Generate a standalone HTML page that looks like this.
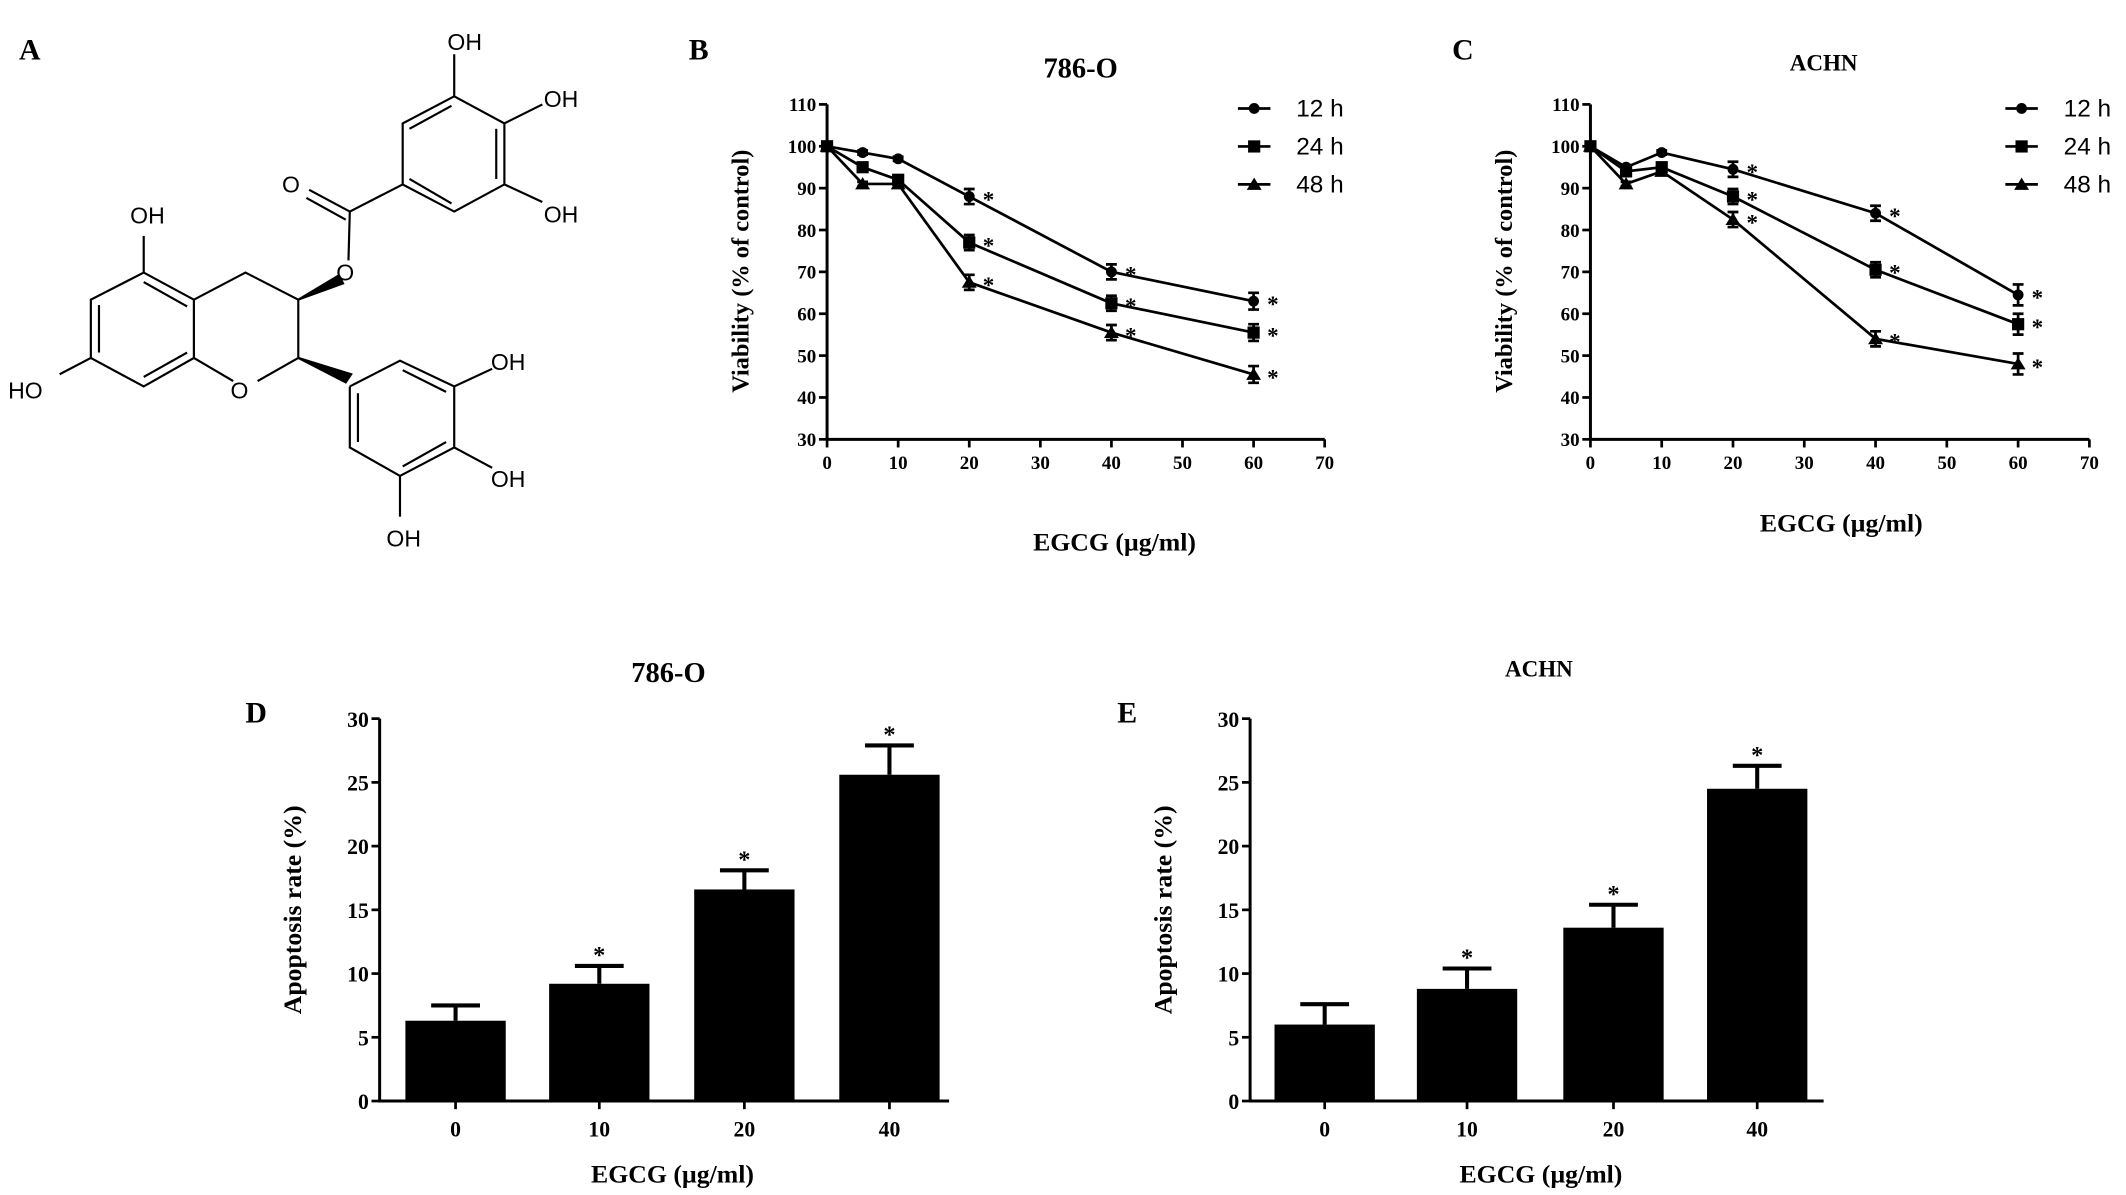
<!DOCTYPE html>
<html><head><meta charset="utf-8"><style>
html,body{margin:0;padding:0;background:#fff;}
svg{display:block;}
text{font-family:"Liberation Serif",serif;font-weight:bold;fill:#000;}
.chem{font-family:"Liberation Sans",sans-serif;font-weight:normal;font-size:17px;}
.leg{font-family:"Liberation Sans",sans-serif;font-weight:normal;font-size:18px;}
</style></head><body>
<svg id="fig" width="2126" height="1195" viewBox="0 0 1568 881.3" preserveAspectRatio="none" xmlns="http://www.w3.org/2000/svg">
<g stroke="#000" stroke-width="1.6" fill="none">
<polyline points="335,71 372,91 372,136 335,156 297,136 297,91 335,71"/>
<line x1="302" y1="95" x2="333" y2="78"/><line x1="366" y1="95" x2="366" y2="132"/><line x1="302" y1="132" x2="333" y2="150"/>
<line x1="335" y1="71" x2="335" y2="40"/><line x1="372" y1="91" x2="400" y2="77"/><line x1="372" y1="136" x2="400" y2="149"/>
<line x1="297" y1="136" x2="258" y2="156"/><line x1="258" y1="156" x2="228" y2="140"/><line x1="255" y1="162" x2="226" y2="146"/>
<line x1="258" y1="156" x2="257" y2="192"/>
<polyline points="220,221 181,201 143,221 106,201 67,221 67,264 106,285 143,264 143,221"/>
<line x1="106" y1="208" x2="138" y2="226"/><line x1="73" y1="225" x2="73" y2="260"/><line x1="106" y1="278" x2="138" y2="260"/>
<line x1="106" y1="201" x2="106" y2="174"/><line x1="67" y1="264" x2="44" y2="276"/>
<line x1="143" y1="264" x2="172" y2="281"/><line x1="190" y1="281" x2="220" y2="264"/><line x1="220" y1="264" x2="220" y2="221"/>
<polyline points="258,285 295,266 335,285 335,330 295,351 258,330 258,285"/>
<line x1="297" y1="273" x2="329" y2="289"/><line x1="329" y1="326" x2="297" y2="344"/><line x1="264" y1="290" x2="264" y2="326"/>
<line x1="335" y1="285" x2="363" y2="272"/><line x1="335" y1="330" x2="363" y2="345"/><line x1="295" y1="351" x2="295" y2="381"/>
<polygon points="220,221 250,203 253,209" fill="#000"/><polygon points="220,264 255,282 259,276" fill="#000"/>
</g>
<g>
<text x="330" y="37" class="chem">OH</text><text x="401" y="79" class="chem">OH</text><text x="401" y="164" class="chem">OH</text>
<text x="208" y="142" class="chem">O</text><text x="248" y="207" class="chem">O</text><text x="96" y="165" class="chem">OH</text>
<text x="6" y="294" class="chem">HO</text><text x="170" y="294" class="chem">O</text><text x="362" y="273" class="chem">OH</text>
<text x="362" y="359" class="chem">OH</text><text x="285" y="403" class="chem">OH</text>
</g>
<text x="14" y="44" font-size="22">A</text>
<text x="508" y="44" font-size="22">B</text>
<text x="1071" y="44" font-size="22">C</text>
<text x="181" y="533" font-size="22">D</text>
<text x="824" y="533" font-size="22">E</text>
<g id="gB"></g>
<g id="gC"></g>
<g id="gD"></g>
<g id="gE"></g>
</svg>
<script>
const doses = [0, 5, 10, 20, 40, 60];
const seriesNames = ["12 h", "24 h", "48 h"];
const b12 = [100, 98.5, 97, 88, 70, 63];
const b24 = [100, 95, 92, 77, 62.5, 55.5];
const b48 = [100, 91, 91, 67.5, 55.5, 45.5];
const c12 = [100, 95, 98.5, 94.5, 84, 64.5];
const c24 = [100, 94, 95, 88, 70.5, 57.5];
const c48 = [100, 91, 94, 82.5, 54, 48];
const bErr = [0, 0.5, 0.5, 1.8, 1.8, 2];
const cErr = [0, 0.5, 0.5, 1.8, 1.8, 2.5];
const sigFrom = 3;
const lineXTicks = [0, 10, 20, 30, 40, 50, 60, 70];
const lineYTicks = [30, 40, 50, 60, 70, 80, 90, 100, 110];
const barCats = ["0", "10", "20", "40"];
const dVals = [6.3, 9.2, 16.6, 25.6];
const dErr = [1.2, 1.4, 1.5, 2.3];
const eVals = [6.0, 8.8, 13.6, 24.5];
const eErr = [1.6, 1.6, 1.8, 1.8];
const barSig = [false, true, true, true];
const barYTicks = [0, 5, 10, 15, 20, 25, 30];

const NS = "http://www.w3.org/2000/svg";
function mk(parent, tag, attrs, txt) {
  const e = document.createElementNS(NS, tag);
  for (const k in attrs) e.setAttribute(k, attrs[k]);
  if (txt !== undefined) e.textContent = txt;
  parent.appendChild(e);
  return e;
}
function marker(g, shape, x, y) {
  let m;
  if (shape === 0) m = mk(g, "circle", {cx: x, cy: y, r: 4});
  else if (shape === 1) m = mk(g, "rect", {x: x - 4.5, y: y - 4.5, width: 9, height: 9});
  else m = mk(g, "polygon", {points: `${x},${y-5} ${x+5.5},${y+4} ${x-5.5},${y+4}`});
  
  
}
function lineChart(id, x0, x1, title, titleX, titleY, titleSize, xlabX, xlabY, series, err, legX) {
  const g = document.getElementById(id);
  const yTop = 77, yBot = 324;
  const sx = v => x0 + (v - 0) / 70 * (x1 - x0);
  const sy = v => yBot - (v - 30) / 80 * (yBot - yTop);
  const ax = mk(g, "path", {d: `M${x0},${yTop} L${x0},${yBot} L${x1},${yBot}`, stroke: "#000", "stroke-width": 2.2, fill: "none"});
  
  
  lineYTicks.forEach(t => {
    mk(g, "line", {x1: x0 - 6, x2: x0, y1: sy(t), y2: sy(t), stroke: "#000", "stroke-width": 2});
    const tl = mk(g, "text", {x: x0 - 8, y: sy(t) + 5, "font-size": 14, "text-anchor": "end"}, t);
    
    
  });
  lineXTicks.forEach(t => {
    mk(g, "line", {x1: sx(t), x2: sx(t), y1: yBot, y2: yBot + 6, stroke: "#000", "stroke-width": 2});
    const tl = mk(g, "text", {x: sx(t), y: yBot + 22, "font-size": 14, "text-anchor": "middle"}, t);
    
    
  });
  const tt = mk(g, "text", {x: titleX, y: titleY, "font-size": titleSize, "text-anchor": "middle"}, title);
  
  
  const yl = mk(g, "text", {x: 0, y: 0, "font-size": 18, "text-anchor": "middle", transform: `translate(${x0 - 58},200) rotate(-90)`}, "Viability (% of control)");
  
  
  const xl = mk(g, "text", {x: xlabX, y: xlabY, "font-size": 19, "text-anchor": "middle"}, "EGCG (\u00b5g/ml)");
  
  
  series.forEach((vals, si) => {
    const sg = mk(g, "g", {fill: "#000"});
    
    
    mk(sg, "polyline", {points: vals.map((v, i) => `${sx(doses[i])},${sy(v)}`).join(" "), fill: "none", stroke: "#000", "stroke-width": 2});
    vals.forEach((v, i) => {
      const x = sx(doses[i]), e = err[i];
      if (e > 0) {
        const eb = mk(sg, "path", {d: `M${x},${sy(v + e)} L${x},${sy(v - e)} M${x - 4},${sy(v + e)} L${x + 4},${sy(v + e)} M${x - 4},${sy(v - e)} L${x + 4},${sy(v - e)}`, stroke: "#000", "stroke-width": 2, fill: "none"});
        
        
      }
      marker(sg, si, x, sy(v));
      if (i >= sigFrom) {
        const st = mk(sg, "text", {x: x + 10, y: sy(v) + 8, "font-size": 17, "font-family": "Liberation Sans, sans-serif"}, "*");
        
        
      }
    });
    const lg = mk(g, "g", {fill: "#000"});
    
    
    const ly = 80 + si * 28;
    mk(lg, "line", {x1: legX, x2: legX + 24, y1: ly, y2: ly, stroke: "#000", "stroke-width": 2});
    marker(lg, si, legX + 12, ly);
    mk(lg, "text", {x: legX + 43, y: ly + 6, class: "leg"}, seriesNames[si]);
  });
}
lineChart("gB", 610, 977, "786-O", 797, 57, 21, 822, 406, [b12, b24, b48], bErr, 913);
lineChart("gC", 1173, 1541, "ACHN", 1345, 52, 17, 1358, 392, [c12, c24, c48], cErr, 1479);

function barChart(id, x0, x1, centers, vals, err, title, titleX, titleY, titleSize) {
  const g = document.getElementById(id);
  const yTop = 530, yBot = 812;
  const sy = v => yBot - v / 30 * (yBot - yTop);
  const ax = mk(g, "path", {d: `M${x0},${yTop} L${x0},${yBot} L${x1},${yBot}`, stroke: "#000", "stroke-width": 2.2, fill: "none"});
  
  
  barYTicks.forEach(t => {
    mk(g, "line", {x1: x0 - 6, x2: x0, y1: sy(t), y2: sy(t), stroke: "#000", "stroke-width": 2});
    const tl = mk(g, "text", {x: x0 - 8, y: sy(t) + 6, "font-size": 16, "text-anchor": "end", "font-family": "Liberation Sans, sans-serif", "font-weight": "normal"}, t);
    
    
  });
  vals.forEach((v, i) => {
    const c = centers[i];
    mk(g, "line", {x1: c, x2: c, y1: yBot, y2: yBot + 6, stroke: "#000", "stroke-width": 2});
    const tl = mk(g, "text", {x: c, y: yBot + 26, "font-size": 16, "text-anchor": "middle"}, barCats[i]);
    
    
    const b = mk(g, "rect", {x: c - 37, y: sy(v), width: 74, height: yBot - sy(v), fill: "#000"});
    
    
    const eb = mk(g, "path", {d: `M${c},${sy(v)} L${c},${sy(v + err[i])} M${c - 18},${sy(v + err[i])} L${c + 18},${sy(v + err[i])}`, stroke: "#000", "stroke-width": 3, fill: "none"});
    
    
    if (barSig[i]) {
      const st = mk(g, "text", {x: c, y: sy(v + err[i]) - 2, "font-size": 18, "text-anchor": "middle", "font-family": "Liberation Sans, sans-serif"}, "*");
      
      
    }
  });
  const tt = mk(g, "text", {x: titleX, y: titleY, "font-size": titleSize, "text-anchor": "middle"}, title);
  
  
  const yl = mk(g, "text", {x: 0, y: 0, "font-size": 19, "text-anchor": "middle", transform: `translate(${x0 - 58},671) rotate(-90)`}, "Apoptosis rate (%)");
  
  
  const xl = mk(g, "text", {x: (centers[0] + centers[3]) / 2, y: 872, "font-size": 19, "text-anchor": "middle"}, "EGCG (\u00b5g/ml)");
  
  
}
barChart("gD", 280, 700, [336, 442, 549, 656], dVals, dErr, "786-O", 493, 503, 21);
barChart("gE", 922, 1345, [977, 1082, 1190, 1296], eVals, eErr, "ACHN", 1135, 499, 17);
</script>
</body></html>
